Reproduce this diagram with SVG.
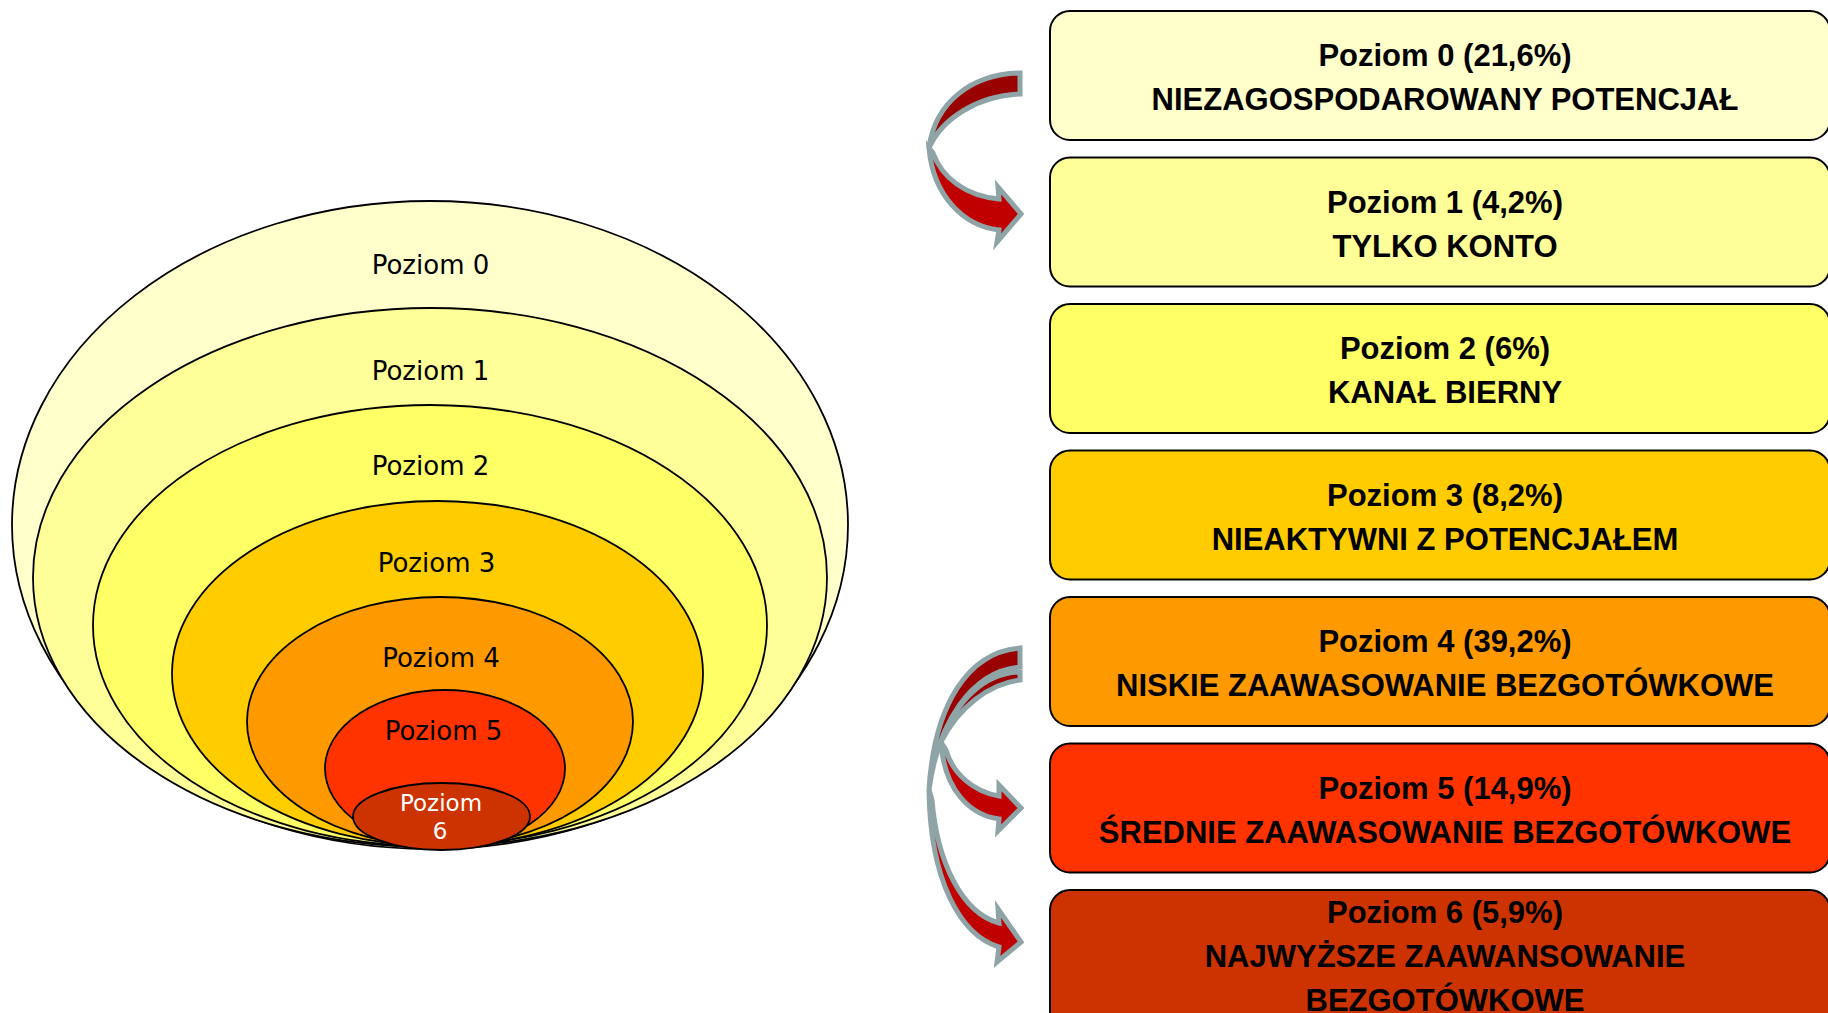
<svg xmlns="http://www.w3.org/2000/svg" width="1828" height="1013" viewBox="0 0 1828 1013">
<style>
.ring{stroke:#000;stroke-width:1.8}
.rl{font-family:"DejaVu Sans",sans-serif;font-size:26px;fill:#000;text-anchor:middle}
.box{stroke:#000;stroke-width:2}
.bt{font-family:"Liberation Sans",Arial,sans-serif;font-size:31px;font-weight:bold;fill:#000;text-anchor:middle}
.up{fill:#990000;stroke:#8EA4A7;stroke-width:5;stroke-linejoin:miter}
.lo{fill:#C00000;stroke:#8EA4A7;stroke-width:5;stroke-linejoin:miter}
</style>
<rect width="1828" height="1013" fill="#fff"/>
<g id="rings">
<g id="ring0"><ellipse class="ring" cx="430" cy="525" rx="418" ry="324" fill="#FFFFCC"/><text class="rl" x="430.5" y="274">Poziom 0</text></g>
<g id="ring1"><ellipse class="ring" cx="430" cy="577.5" rx="397" ry="269.5" fill="#FFFF99"/><text class="rl" x="430.5" y="380">Poziom 1</text></g>
<g id="ring2"><ellipse class="ring" cx="430" cy="625.5" rx="337" ry="220.5" fill="#FFFF66"/><text class="rl" x="430.5" y="475">Poziom 2</text></g>
<g id="ring3"><ellipse class="ring" cx="437.5" cy="673.5" rx="265.5" ry="172.5" fill="#FFCC00"/><text class="rl" x="436.5" y="572">Poziom 3</text></g>
<g id="ring4"><ellipse class="ring" cx="440" cy="721.5" rx="193" ry="124.5" fill="#FF9900"/><text class="rl" x="441" y="667">Poziom 4</text></g>
<g id="ring5"><ellipse class="ring" cx="445" cy="768.5" rx="120" ry="78.5" fill="#FF3300"/><text class="rl" x="443.5" y="740">Poziom 5</text></g>
<g id="ring6"><ellipse class="ring" cx="441.5" cy="816.5" rx="88.5" ry="33.5" fill="#CC3300"/><text class="rl" x="441" y="811" style="font-size:23px;fill:#fff">Poziom</text><text class="rl" x="440" y="839" style="font-size:23px;fill:#fff">6</text></g>
</g>
<g id="boxes">
<g id="box0"><rect class="box" x="1050" y="11" width="780" height="129" rx="20" fill="#FFFFCC"/><text class="bt" x="1445" y="66">Poziom 0 (21,6%)</text><text class="bt" x="1445" y="110">NIEZAGOSPODAROWANY POTENCJAŁ</text></g>
<g id="box1"><rect class="box" x="1050" y="157.5" width="780" height="129" rx="20" fill="#FFFF99"/><text class="bt" x="1445" y="212.5">Poziom 1 (4,2%)</text><text class="bt" x="1445" y="256.5">TYLKO KONTO</text></g>
<g id="box2"><rect class="box" x="1050" y="304" width="780" height="129" rx="20" fill="#FFFF66"/><text class="bt" x="1445" y="359">Poziom 2 (6%)</text><text class="bt" x="1445" y="403">KANAŁ BIERNY</text></g>
<g id="box3"><rect class="box" x="1050" y="450.5" width="780" height="129" rx="20" fill="#FFCC00"/><text class="bt" x="1445" y="505.5">Poziom 3 (8,2%)</text><text class="bt" x="1445" y="549.5">NIEAKTYWNI Z POTENCJAŁEM</text></g>
<g id="box4"><rect class="box" x="1050" y="597" width="780" height="129" rx="20" fill="#FF9900"/><text class="bt" x="1445" y="652">Poziom 4 (39,2%)</text><text class="bt" x="1445" y="696">NISKIE ZAAWASOWANIE BEZGOTÓWKOWE</text></g>
<g id="box5"><rect class="box" x="1050" y="743.5" width="780" height="129" rx="20" fill="#FF3300"/><text class="bt" x="1445" y="798.5">Poziom 5 (14,9%)</text><text class="bt" x="1445" y="842.5">ŚREDNIE ZAAWASOWANIE BEZGOTÓWKOWE</text></g>
<g id="box6"><rect class="box" x="1050" y="890" width="780" height="160" rx="20" fill="#CC3300"/><text class="bt" x="1445" y="923">Poziom 6 (5,9%)</text><text class="bt" x="1445" y="967">NAJWYŻSZE ZAAWANSOWANIE</text><text class="bt" x="1445" y="1010.5">BEZGOTÓWKOWE</text></g>
</g>
<g id="connectors">
<g id="arrow0to1">
<path class="lo" d="M 929 148 C 933 195, 963 226, 999 230 L 997 242 L 1021 214 L 998 187 L 999 199 C 966 196, 942 178, 933 153 Z"/>
<path class="up" d="M 1020 73 C 972 74, 935 102, 929 148 C 942 118, 978 96, 1020 94 Z"/>
</g>
<g id="arrow4to6">
<path class="lo" d="M 929 790 C 930 880, 960 935, 999 947 L 997 962 L 1021 942 L 998 909 L 999 923 C 962 913, 937 862, 932 800 Z"/>
<path class="up" d="M 1020 648 C 968 652, 934 705, 929 790 C 938 722, 972 671, 1020 667 Z"/>
</g>
<g id="arrow4to5">
<path class="lo" d="M 941 742 C 944 790, 970 815, 999 819 L 998 831 L 1021 808 L 999 785 L 999 796 C 975 792, 953 775, 946 750 Z"/>
<path class="up" d="M 1020 672 C 985 673, 956 700, 941 742 C 958 708, 988 684, 1020 680 Z"/>
</g>
</g>
</svg>
